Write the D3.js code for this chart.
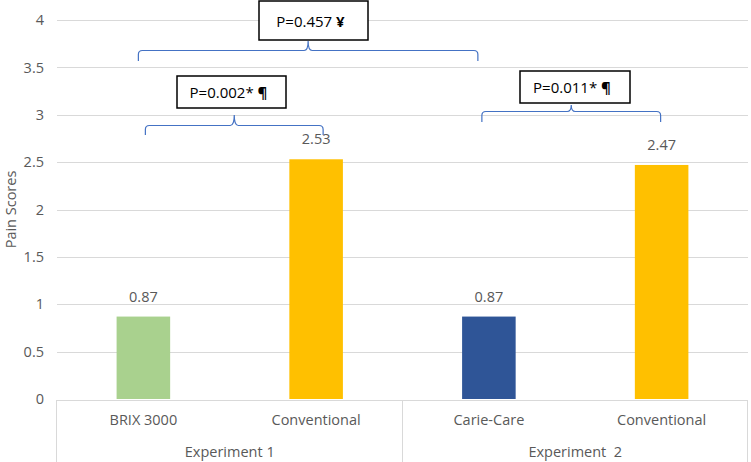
<!DOCTYPE html>
<html>
<head>
<meta charset="utf-8">
<script src="https://cdn.jsdelivr.net/npm/d3@7"></script>
<style>
  body { margin: 0; background: #fff; }
  svg text { font-family: "Open Sans", sans-serif; fill: #595959; }
</style>
</head>
<body>
<svg id="chart"></svg>
<script>
// Data
const categories = ["BRIX 3000", "Conventional", "Carie-Care", "Conventional"];
const groups = ["Experiment 1", "Experiment 1", "Experiment  2", "Experiment  2"];
const values = [0.87, 2.53, 0.87, 2.47];
const yTicks = [0, 0.5, 1, 1.5, 2, 2.5, 3, 3.5, 4];
const comparisons = [
    { from: 0, to: 1, label: "P=0.002*", mark: "¶" },
    { from: 0, to: 2, label: "P=0.457", mark: "¥" },
    { from: 2, to: 3, label: "P=0.011*", mark: "¶" }
];

// styling / layout
const barColors = ["#A9D18E", "#FFC000", "#2F5597", "#FFC000"];
const bracketLayout = [
    { yLine: 125, yEnd: 135, yTip: 115, dx1: 2, dx2: 7, box: [177, 76, 109, 32] },
    { yLine: 50, yEnd: 61, yTip: 41, dx1: -5, dx2: -11, box: [259, 1, 109, 39] },
    { yLine: 111, yEnd: 122, yTip: 105, dx1: -7, dx2: -1, box: [520, 71, 110, 32] }
];

const width = 751;
const height = 462;
const margin = { top: 20, right: 3, bottom: 63, left: 57 };
const fontSize = "14.5px";

const svg = d3.select("#chart")
    .attr("width", width)
    .attr("height", height);

const x = d3.scaleBand()
    .domain(d3.range(categories.length))
    .range([margin.left, width - margin.right])
    .paddingInner(0.69)
    .paddingOuter(0.345);

const xCenter = i => x(i) + x.bandwidth() / 2;

const y = d3.scaleLinear()
    .domain([0, 4])
    .range([height - margin.bottom, margin.top]);

// gridlines
svg.append("g")
    .selectAll("line")
    .data(yTicks.slice(1))
    .join("line")
    .attr("x1", margin.left)
    .attr("x2", width - margin.right)
    .attr("y1", d => Math.round(y(d)) + 0.5)
    .attr("y2", d => Math.round(y(d)) + 0.5)
    .attr("stroke", "#d9d9d9")
    .attr("stroke-width", 1);

// y axis
const yAxis = d3.axisLeft(y)
    .tickValues(yTicks)
    .tickSize(0)
    .tickPadding(13)
    .tickFormat(d => d);

svg.append("g")
    .attr("transform", "translate(" + margin.left + ",0)")
    .call(yAxis)
    .call(g => g.select(".domain").remove())
    .selectAll("text")
    .style("font-size", fontSize)
    .style("font-family", "'Open Sans', sans-serif")
    .attr("fill", "#595959");

svg.append("text")
    .attr("transform", "translate(16," + y(2) + ") rotate(-90)")
    .attr("text-anchor", "middle")
    .style("font-size", fontSize)
    .text("Pain Scores");

// bars
svg.selectAll("rect.bar")
    .data(values)
    .join("rect")
    .attr("class", "bar")
    .attr("x", (d, i) => x(i))
    .attr("y", d => y(d))
    .attr("width", x.bandwidth())
    .attr("height", d => y(0) - y(d))
    .attr("fill", (d, i) => barColors[i]);

// value labels
svg.selectAll("text.val")
    .data(values)
    .join("text")
    .attr("class", "val")
    .attr("x", (d, i) => xCenter(i))
    .attr("y", d => y(d) - 15)
    .attr("text-anchor", "middle")
    .style("font-size", fontSize)
    .text(d => d.toFixed(2));

// category axis box
const axisTop = y(0) + 1;
const groupNames = Array.from(new Set(groups));
const groupEdges = [margin.left];
groupNames.forEach((g, gi) => {
    const idx = groups.lastIndexOf(g);
    groupEdges.push(gi === groupNames.length - 1
        ? width - margin.right
        : x(idx) + x.bandwidth() + x.step() * x.paddingInner() / 2);
});

svg.append("line")
    .attr("x1", margin.left)
    .attr("x2", width - margin.right)
    .attr("y1", axisTop + 0.5)
    .attr("y2", axisTop + 0.5)
    .attr("stroke", "#d9d9d9");

svg.append("g")
    .selectAll("line")
    .data(groupEdges)
    .join("line")
    .attr("x1", d => Math.round(d) - 0.5)
    .attr("x2", d => Math.round(d) - 0.5)
    .attr("y1", axisTop)
    .attr("y2", height)
    .attr("stroke", "#d9d9d9");

svg.selectAll("text.cat")
    .data(categories)
    .join("text")
    .attr("class", "cat")
    .attr("x", (d, i) => xCenter(i))
    .attr("y", axisTop + 25)
    .attr("text-anchor", "middle")
    .style("font-size", fontSize)
    .text(d => d);

svg.selectAll("text.grp")
    .data(groupNames)
    .join("text")
    .attr("class", "grp")
    .attr("x", g => {
        const first = groups.indexOf(g);
        const last = groups.lastIndexOf(g);
        return (xCenter(first) + xCenter(last)) / 2;
    })
    .attr("y", axisTop + 57)
    .attr("text-anchor", "middle")
    .style("font-size", fontSize)
    .style("white-space", "pre")
    .text(d => d);

// significance brackets
const bracketPath = (x1, x2, yLine, yEnd, yTip) => {
    const xm = (x1 + x2) / 2;
    const r = 4;
    const p = d3.path();
    p.moveTo(x1, yEnd);
    p.lineTo(x1, yLine + r);
    p.quadraticCurveTo(x1, yLine, x1 + r, yLine);
    p.lineTo(xm - r, yLine);
    p.quadraticCurveTo(xm, yLine, xm, yTip);
    p.quadraticCurveTo(xm, yLine, xm + r, yLine);
    p.lineTo(x2 - r, yLine);
    p.quadraticCurveTo(x2, yLine, x2, yLine + r);
    p.lineTo(x2, yEnd);
    return p.toString();
};

comparisons.forEach((c, i) => {
    const L = bracketLayout[i];
    const x1 = xCenter(c.from) + L.dx1;
    const x2 = xCenter(c.to) + L.dx2;
    svg.append("path")
        .attr("d", bracketPath(x1, x2, L.yLine + 0.5, L.yEnd, L.yTip))
        .attr("fill", "none")
        .attr("stroke", "#4472C4")
        .attr("stroke-width", 1.2);

    const [bx, by, bw, bh] = L.box;
    svg.append("rect")
        .attr("x", bx)
        .attr("y", by)
        .attr("width", bw)
        .attr("height", bh)
        .attr("fill", "#fff")
        .attr("stroke", "#000")
        .attr("stroke-width", 1.5);

    const t = svg.append("text")
        .attr("x", bx + bw / 2 - 3)
        .attr("y", by + bh / 2 + 6)
        .attr("text-anchor", "middle")
        .style("font-size", "15px")
        .style("fill", "#000");
    t.append("tspan").text(c.label + " ");
    t.append("tspan").style("font-weight", "bold").style("fill", "#000").text(c.mark);
});
</script>
</body>
</html>
